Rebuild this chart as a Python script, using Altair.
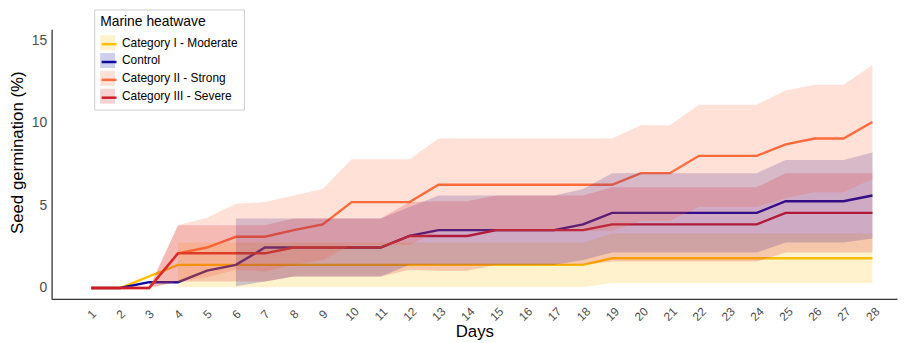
import altair as alt
import pandas as pd

days = list(range(1, 29))
series_names = ["Category I - Moderate", "Control", "Category II - Strong", "Category III - Severe"]
line_colors = ["#FFC000", "#0D0A9E", "#FF6B3D", "#D01C28"]

# mean germination (%) per day
moderate_mean = [0, 0, 0.7, 1.4, 1.4, 1.4, 1.4, 1.4, 1.4, 1.4, 1.4, 1.4, 1.4, 1.4,
                 1.4, 1.4, 1.4, 1.4, 1.8, 1.8, 1.8, 1.8, 1.8, 1.8, 1.8, 1.8, 1.8, 1.8]
control_mean = [0, 0, 0.35, 0.35, 1.05, 1.4, 2.45, 2.45, 2.45, 2.45, 2.45, 3.15, 3.5, 3.5,
                3.5, 3.5, 3.5, 3.85, 4.55, 4.55, 4.55, 4.55, 4.55, 4.55, 5.25, 5.25, 5.25, 5.6]
strong_mean = [0, 0, 0, 2.1, 2.45, 3.1, 3.1, 3.5, 3.85, 5.2, 5.2, 5.2, 6.25, 6.25,
               6.25, 6.25, 6.25, 6.25, 6.25, 6.95, 6.95, 8.0, 8.0, 8.0, 8.7, 9.05, 9.05, 10.05]
severe_mean = [0, 0, 0, 2.1, 2.1, 2.1, 2.1, 2.45, 2.45, 2.45, 2.45, 3.15, 3.15, 3.15,
               3.5, 3.5, 3.5, 3.5, 3.85, 3.85, 3.85, 3.85, 3.85, 3.85, 4.55, 4.55, 4.55, 4.55]

# ribbon bounds (None = no ribbon drawn that day)
moderate_lower = [None, None, None, 0.05, 0.05, 0.05, 0.05, 0.05, 0.05, 0.05, 0.05, 0.05, 0.05, 0.05,
                  0.05, 0.05, 0.05, 0.05, 0.3, 0.3, 0.3, 0.3, 0.3, 0.3, 0.3, 0.3, 0.3, 0.3]
moderate_upper = [None, None, None, 2.75, 2.75, 2.75, 2.75, 2.75, 2.75, 2.75, 2.75, 2.75, 2.75, 2.75,
                  2.75, 2.75, 2.75, 2.75, 3.3, 3.3, 3.3, 3.3, 3.3, 3.3, 3.3, 3.3, 3.3, 3.3]
control_lower = [None, None, None, None, None, 0.1, 0.4, 0.7, 0.7, 0.7, 0.7, 1.4, 1.4, 1.4,
                 1.4, 1.4, 1.4, 1.7, 2.15, 2.15, 2.15, 2.15, 2.15, 2.15, 2.75, 2.75, 2.75, 3.0]
control_upper = [None, None, None, None, None, 4.2, 4.2, 4.2, 4.2, 4.2, 4.2, 4.9, 5.6, 5.6,
                 5.6, 5.6, 5.6, 6.0, 6.95, 6.95, 6.95, 6.95, 6.95, 6.95, 7.75, 7.75, 7.75, 8.2]
strong_lower = [None, None, 0, 0.4, 0.65, 1.1, 1.0, 1.4, 1.7, 2.6, 2.6, 2.6, 3.45, 3.45,
                3.45, 3.45, 3.45, 3.45, 3.45, 4.05, 4.05, 4.9, 4.9, 4.9, 5.45, 5.8, 5.8, 6.6]
strong_upper = [None, None, 0, 3.8, 4.25, 5.1, 5.2, 5.6, 6.0, 7.8, 7.8, 7.8, 9.05, 9.05,
                9.05, 9.05, 9.05, 9.05, 9.05, 9.85, 9.85, 11.1, 11.1, 11.1, 11.95, 12.3, 12.3, 13.5]
severe_lower = [None, None, 0, 0.4, 0.4, 0.4, 0.4, 0.7, 0.7, 0.7, 0.7, 1.1, 1.05, 1.05,
                1.4, 1.4, 1.4, 1.4, 1.6, 1.6, 1.6, 1.6, 1.6, 1.6, 2.15, 2.15, 2.15, 2.15]
severe_upper = [None, None, 0, 3.8, 3.8, 3.8, 3.8, 4.2, 4.2, 4.2, 4.2, 5.2, 5.25, 5.25,
                5.6, 5.6, 5.6, 5.6, 6.1, 6.1, 6.1, 6.1, 6.1, 6.1, 6.95, 6.95, 6.95, 6.95]

y_ticks = [0, 5, 10, 15]

means = [moderate_mean, control_mean, strong_mean, severe_mean]
lowers = [moderate_lower, control_lower, strong_lower, severe_lower]
uppers = [moderate_upper, control_upper, strong_upper, severe_upper]

line_rows, band_rows = [], []
for name, m, lo, up in zip(series_names, means, lowers, uppers):
    for d, mv, lv, uv in zip(days, m, lo, up):
        line_rows.append({"day": d, "series": name, "mean": mv})
        if lv is not None and uv is not None:
            band_rows.append({"day": d, "series": name, "lower": lv, "upper": uv})
line_df = pd.DataFrame(line_rows)
band_df = pd.DataFrame(band_rows)

x_scale = alt.Scale(domain=[-0.37, 28.85], nice=False, zero=False)
y_scale = alt.Scale(domain=[-0.66, 15.66], nice=False, zero=False)
color_scale = alt.Scale(domain=series_names, range=line_colors)

legend_common = dict(
    orient="none", legendX=43, symbolSize=225, labelFontSize=12, labelColor="black",
    labelOffset=7, rowPadding=3, padding=6, labelLimit=300,
)


def x_axis():
    return alt.Axis(values=days, labelAngle=315, labelAlign="center", labelBaseline="middle",
                    labelPadding=15, ticks=False, tickSize=0, grid=False,
                    domainColor="#333333", domainWidth=1.3, labelColor="#4d4d4d",
                    labelFontSize=12, title="Days", titleFontSize=17, titleFontWeight="normal",
                    titleColor="black", titleBaseline="alphabetic", titleY=38,
                    labelOverlap=False, labelFlush=False, labelBound=False)


def y_axis():
    return alt.Axis(values=y_ticks, ticks=False, tickSize=0, grid=False, labelPadding=5,
                    domainColor="#333333", domainWidth=1.3, labelColor="#4d4d4d",
                    labelFontSize=14, title="Seed germination (%)", titleFontSize=17,
                    titleFontWeight="normal", titleColor="black", titlePadding=5,
                    titleY=124, labelOverlap=False)


lines = alt.Chart(line_df).mark_line(strokeWidth=2.4).encode(
    x=alt.X("day:Q", scale=x_scale, axis=x_axis()),
    y=alt.Y("mean:Q", scale=y_scale, axis=y_axis()),
    stroke=alt.Stroke("series:N", scale=color_scale,
                      legend=alt.Legend(symbolType="stroke", symbolStrokeWidth=2.5,
                                        title=None, legendY=0, labelExpr="''", zindex=1,
                                        **legend_common)),
)

bands = alt.Chart(band_df).mark_area(fillOpacity=0.2, strokeWidth=0).encode(
    x=alt.X("day:Q", scale=x_scale, axis=x_axis()),
    y=alt.Y("lower:Q", scale=y_scale, axis=y_axis()),
    y2="upper:Q",
    fill=alt.Fill("series:N", scale=color_scale,
                  legend=alt.Legend(symbolType="square", symbolOpacity=0.2,
                                    symbolStrokeWidth=0, fillColor="white",
                                    strokeColor="#cccccc", zindex=0,
                                    title="Marine heatwave", legendY=-20,
                                    titleFontSize=14, titleFontWeight="normal",
                                    titleColor="black", titlePadding=6,
                                    **legend_common)),
)

chart = alt.layer(lines, bands).resolve_scale(fill="independent", stroke="independent").properties(
    width=853, height=272,
    autosize=alt.AutoSizeParams(type="none"),
    padding={"left": 44, "top": 20, "right": 4, "bottom": 42},
).configure(font="Liberation Sans").configure_view(stroke=None)

chart.save("out.html", embed_options={"renderer": "svg", "actions": False})
